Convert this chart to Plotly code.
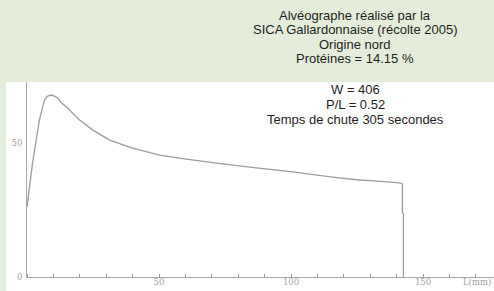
import plotly.graph_objects as go

# Alveogram curve: L (mm) vs pressure
L_mm = [0, 2.1, 4.7, 6.6, 7.8, 9.3, 10.4, 11.6, 13.0, 15.0, 19.9, 24.8, 31.3, 40.0,
        50.2, 60.4, 71.8, 84.3, 100.6, 115.7, 125.9, 133.0, 141.1, 142.2, 142.2,
        142.6, 142.6]
P_val = [26.1, 42.5, 58.6, 66.0, 67.5, 67.9, 67.5, 66.8, 65.0, 63.4, 58.6, 54.9,
         51.1, 48.1, 45.5, 44.0, 42.5, 41.0, 39.2, 37.3, 36.2, 35.8, 35.1, 34.7,
         23.9, 23.5, 0]

x_tickvals = [50, 100, 150, 170.5]
x_ticktext = ["50", "100", "150", "L(mm)"]
y_tickvals = [0, 50]
y_ticktext = ["0", "50"]

header_lines = [
    "Alvéographe réalisé par la",
    "SICA Gallardonnaise (récolte 2005)",
    "Origine nord",
    "Protéines = 14.15 %",
    "W = 406",
    "P/L = 0.52",
    "Temps de chute 305 secondes",
]
header_y_px = [15, 29.5, 44, 58.5, 89, 104, 119.5]

W, H = 494, 291
GRAY = "#a8a8a8"

fig = go.Figure()
fig.add_trace(go.Scatter(
    x=L_mm, y=P_val, mode="lines",
    line=dict(color="#9c9c9c", width=1.3, simplify=False),
    cliponaxis=False,
    hoverinfo="skip", showlegend=False,
))

# white scanned-chart area on green page
fig.add_shape(type="rect", xref="paper", yref="paper",
              x0=-21 / 467, x1=1, y0=-14 / 195, y1=1,
              fillcolor="white", line=dict(width=0), layer="below")

for txt, ypx in zip(header_lines, header_y_px):
    fig.add_annotation(
        text=txt, xref="paper", yref="paper",
        x=(355 - 27) / 467, y=(277 - ypx) / 195,
        xanchor="center", yanchor="middle", showarrow=False,
        font=dict(family="Liberation Sans, Arial, sans-serif", size=13, color="#1e1e1e"),
    )

tick_font = dict(family="DejaVu Serif, serif", size=8.5, color="#a4a4a4")

fig.update_layout(
    width=W, height=H,
    margin=dict(l=27, r=0, t=82, b=14, pad=0),
    paper_bgcolor="#e4edd9",
    plot_bgcolor="white",
    showlegend=False,
    xaxis=dict(
        range=[0, 467 / 2.64], showgrid=False, zeroline=False,
        showline=True, linecolor=GRAY, linewidth=1,
        tickvals=x_tickvals, ticktext=x_ticktext, ticks="",
        ticklabelstandoff=-3,
        tickfont=tick_font,
        minor=dict(dtick=10, tick0=0, ticks="inside", ticklen=3, tickcolor="#999999",
                   showgrid=False),
        fixedrange=True,
    ),
    yaxis=dict(
        range=[0, 195 / 2.68], showgrid=False, zeroline=False,
        showline=True, linecolor=GRAY, linewidth=1,
        tickvals=y_tickvals, ticktext=y_ticktext, ticks="",
        ticklabelstandoff=2,
        tickfont=tick_font,
        fixedrange=True,
    ),
)

fig.write_html(
    "out.html",
    config={"displayModeBar": False},
    post_script="document.body.style.margin='0';document.body.style.padding='0';"
                "document.body.style.background='#e4edd9';",
)
